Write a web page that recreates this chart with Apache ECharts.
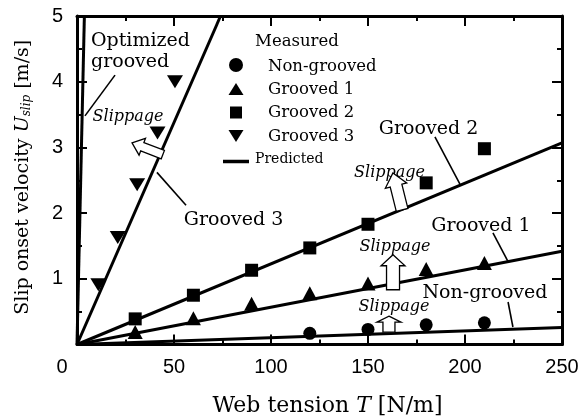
<!DOCTYPE html>
<html><head><meta charset="utf-8">
<script src="https://cdn.jsdelivr.net/npm/echarts@6/dist/echarts.min.js"></script>
<style>html,body{margin:0;padding:0;background:#fff}#c{width:582px;height:420px}</style>
</head><body><div id="c"></div>
<script>
// ---- data ----
const tension = [30, 60, 90, 120, 150, 180, 210];
const nonGroovedT = [120, 150, 180, 210];
const nonGroovedU = [0.17, 0.23, 0.30, 0.33];
const grooved1U = [0.19, 0.40, 0.62, 0.78, 0.93, 1.15, 1.24];
const grooved2U = [0.39, 0.75, 1.13, 1.47, 1.83, 2.46, 2.98];
const grooved3T = [11, 21, 31, 41.5, 50.5];
const grooved3U = [0.91, 1.63, 2.43, 3.22, 4.0];
// predicted lines (end points)
const predNonGrooved = [[0, 0], [250, 0.26]];
const predGrooved1 = [[0, 0], [250, 1.42]];
const predGrooved2 = [[0, 0], [250, 3.07]];
const predGrooved3 = [[0, 0], [74, 5]];
const predOptimized = [[0, 0], [3.8, 5]];
const xTickLabels = [0, 50, 100, 150, 200, 250];
const yTickLabels = [0, 1, 2, 3, 4, 5];

const SERIF = 'DejaVu Serif';
const SANS = 'Liberation Sans';
const pair = (xs, ys) => xs.map((x, i) => [x, ys[i]]);

const chart = echarts.init(document.getElementById('c'));

const axisLine = { show: true, onZero: false, lineStyle: { color: '#000', width: 3 } };
const tick = { show: true, inside: true, length: 10, lineStyle: { color: '#000', width: 2 } };
const minor = { show: true, splitNumber: 2, length: 5, lineStyle: { color: '#000', width: 2 } };

function lineSeries(d) {
  return { type: 'line', data: d, symbol: 'none', lineStyle: { color: '#000', width: 3 }, z: 3, silent: true, animation: false };
}
function scatter(d, symbol, size, rot) {
  return { type: 'scatter', data: d, symbol: symbol, symbolSize: size, symbolRotate: rot || 0,
    itemStyle: { color: '#000', opacity: 1 }, z: 4, animation: false };
}

chart.setOption({
  animation: false,
  backgroundColor: '#fff',
  grid: { left: 77, right: 20, top: 16, bottom: 75.5, containLabel: false, outerBoundsMode: 'none' },
  xAxis: [{
    type: 'value', min: 0, max: 250, interval: 50, position: 'bottom',
    axisLine, axisTick: tick, minorTick: minor, splitLine: { show: false },
    axisLabel: {
      color: '#000', fontFamily: SANS, fontSize: 20, margin: 13,
      formatter: v => xTickLabels.includes(v) ? (v === 0 ? '{z|0}' : String(v)) : '',
      rich: { z: { fontFamily: SANS, fontSize: 20, color: '#000', padding: [0, 30, 0, 0] } }
    },
    name: 'Web tension {i|T} [N/m]', nameLocation: 'middle', nameGap: 51,
    nameTextStyle: { fontFamily: SERIF, fontSize: 22, color: '#000', padding: [0, 0, 0, 16],
      rich: { i: { fontFamily: SERIF, fontSize: 22, fontStyle: 'italic', color: '#000' } } }
  }, {
    type: 'value', min: 0, max: 250, interval: 50, position: 'top',
    axisLine, axisTick: tick, minorTick: minor, splitLine: { show: false }, axisLabel: { show: false }
  }],
  yAxis: [{
    type: 'value', min: 0, max: 5, interval: 1, position: 'left',
    axisLine, axisTick: tick, minorTick: minor, splitLine: { show: false },
    axisLabel: { color: '#000', fontFamily: SANS, fontSize: 20, margin: 14, showMinLabel: false,
      formatter: v => yTickLabels.includes(v) ? String(v) : '' },
    name: 'Slip onset velocity {i|U}{s|slip} [m/s]', nameLocation: 'middle', nameGap: 44,
    nameTextStyle: { fontFamily: SERIF, fontSize: 19, color: '#000', padding: [0, 0, 0, 6],
      rich: {
        i: { fontFamily: SERIF, fontSize: 19, fontStyle: 'italic', color: '#000' },
        s: { fontFamily: SERIF, fontSize: 12, fontStyle: 'italic', color: '#000', verticalAlign: 'bottom', padding: [8, 0, 0, 0] }
      } }
  }, {
    type: 'value', min: 0, max: 5, interval: 1, position: 'right',
    axisLine, axisTick: tick, minorTick: minor, splitLine: { show: false }, axisLabel: { show: false }
  }],
  series: [
    lineSeries(predNonGrooved), lineSeries(predGrooved1), lineSeries(predGrooved2),
    lineSeries(predGrooved3), lineSeries(predOptimized),
    scatter(pair(nonGroovedT, nonGroovedU), 'circle', 13),
    scatter(pair(tension, grooved1U), 'triangle', [15, 14]),
    scatter(pair(tension, grooved2U), 'rect', 13),
    scatter(pair(grooved3T, grooved3U), 'triangle', [16, 13], 180)
  ]
});

// ---- annotations (positions given in data coordinates) ----
const P = (x, y) => chart.convertToPixel({ xAxisIndex: 0, yAxisIndex: 0 }, [x, y]);
const g = [];
function txt(s, at, opts) {
  const p = P(at[0], at[1]);
  g.push({ type: 'text', x: p[0], y: p[1], z: 10, style: Object.assign({
    text: s, fill: '#000', font: '19px "' + SERIF + '"', textAlign: 'center', textVerticalAlign: 'middle' }, opts || {}) });
}
function leader(a, b) {
  const p = P(a[0], a[1]), q = P(b[0], b[1]);
  g.push({ type: 'line', z: 9, shape: { x1: p[0], y1: p[1], x2: q[0], y2: q[1] }, style: { stroke: '#000', lineWidth: 1.6 } });
}
function arrow(at, rotDeg, L, Wh, Hh, Ws) {
  const p = P(at[0], at[1]);
  const h = L / 2;
  g.push({ type: 'polygon', x: p[0], y: p[1], rotation: rotDeg * Math.PI / 180, z: 10,
    shape: { points: [[0, -h], [Wh / 2, -h + Hh], [Ws / 2, -h + Hh], [Ws / 2, h], [-Ws / 2, h], [-Ws / 2, -h + Hh], [-Wh / 2, -h + Hh]] },
    style: { fill: '#fff', stroke: '#000', lineWidth: 1.3 } });
}
const slipFont = 'italic 16px "' + SERIF + '"';

txt('Optimized', [7.2, 4.62], { textAlign: 'left' });
txt('grooved', [7.2, 4.30], { textAlign: 'left' });
leader([19.6, 4.10], [4.1, 3.48]);
txt('Slippage', [26.3, 3.46], { font: slipFont });
arrow([36.3, 2.98], 69, 33, 18, 11, 9);
txt('Grooved 3', [80.7, 1.89]);
leader([41.2, 2.62], [56.2, 2.12]);

txt('Grooved 2', [181.2, 3.28]);
leader([184.5, 3.16], [197.4, 2.44]);
txt('Slippage', [161.1, 2.62], { font: slipFont });
arrow([165.2, 2.33], 14, 38, 22, 13, 12);

txt('Grooved 1', [208.2, 1.80]);
leader([214.4, 1.70], [222.2, 1.26]);
txt('Slippage', [163.9, 1.49], { font: slipFont });
arrow([162.9, 1.10], 0, 35, 24, 11, 13);

txt('Non-grooved', [210.3, 0.78]);
leader([222.2, 0.647], [224.7, 0.266]);
txt('Slippage', [163.4, 0.57], { font: slipFont });
arrow([160.8, 0.31], 0, 16, 24, 6, 12);

// ---- legend ----
const lf = '16.5px "' + SERIF + '"';
const lt = (s, x, y, f) => g.push({ type: 'text', x, y, z: 10, style: { text: s, fill: '#000', font: f || lf, textAlign: 'left', textVerticalAlign: 'middle' } });
lt('Measured', 255, 42);
g.push({ type: 'circle', z: 10, shape: { cx: 236, cy: 65, r: 7 }, style: { fill: '#000' } });
lt('Non-grooved', 268, 67);
g.push({ type: 'polygon', z: 10, shape: { points: [[236, 83], [243.5, 95], [228.5, 95]] }, style: { fill: '#000' } });
lt('Grooved 1', 268, 90);
g.push({ type: 'rect', z: 10, shape: { x: 230, y: 106.5, width: 12, height: 12 }, style: { fill: '#000' } });
lt('Grooved 2', 268, 113);
g.push({ type: 'polygon', z: 10, shape: { points: [[228.5, 130], [243.5, 130], [236, 142]] }, style: { fill: '#000' } });
lt('Grooved 3', 268, 137);
g.push({ type: 'line', z: 10, shape: { x1: 223, y1: 161.5, x2: 249, y2: 161.5 }, style: { stroke: '#000', lineWidth: 3.5 } });
lt('Predicted', 255, 159, '14px "' + SERIF + '"');

chart.setOption({ graphic: g });
</script>
</body></html>
